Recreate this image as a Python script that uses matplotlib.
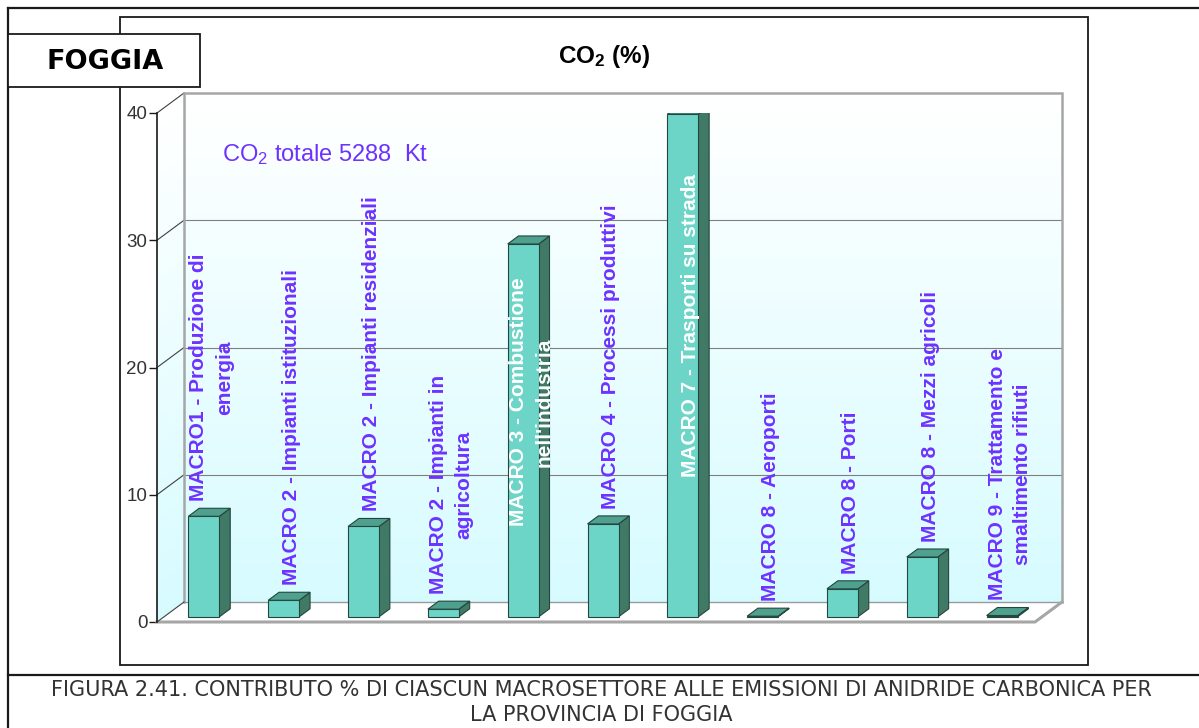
import numpy as np
import matplotlib
matplotlib.use("Agg")
import matplotlib.pyplot as plt
from matplotlib.patches import Polygon, Rectangle
from matplotlib.lines import Line2D

plt.rcParams['font.family'] = ['Liberation Sans', 'DejaVu Sans']
plt.rcParams['mathtext.default'] = 'regular'

# ----------
# DATA
# ----------
categories = [
    "MACRO1 - Produzione di\nenergia",
    "MACRO 2 - Impianti istituzionali",
    "MACRO 2 - Impianti residenziali",
    "MACRO 2 - Impianti in\nagricoltura",
    "MACRO 3 - Combustione\nnell'industria",
    "MACRO 4 - Processi produttivi",
    "MACRO 7 - Trasporti su strada",
    "MACRO 8 - Aeroporti",
    "MACRO 8 - Porti",
    "MACRO 8 - Mezzi agricoli",
    "MACRO 9 - Trattamento e\nsmaltimento rifiuti",
]
co2_share = [7.9, 1.3, 7.1, 0.6, 29.3, 7.3, 39.5, 0.05, 2.2, 4.7, 0.1]
co2_total = 5288
y_ticks = [0, 10, 20, 30, 40]

# ----------
# LAYOUT (pixels)
# ----------
W, H = 1199, 728
fig = plt.figure(figsize=(W / 100, H / 100), dpi=100)

def fx(px):
    return px / W

def fy(py):
    return 1 - py / H

# front plane of the 3D box
x0_px, x1_px = 157, 1035
y0_px, y1_px = 622, 113
ax = fig.add_axes([fx(x0_px), fy(y0_px), fx(x1_px - x0_px), (y0_px - y1_px) / H])
n = len(categories)
ax.set_xlim(0, n)
ax.set_ylim(0, 40)
ax.patch.set_visible(False)

# depth of the box in data units (27 px right, 20 px up)
DX = 27 / ((x1_px - x0_px) / n)
DY = 20 / ((y0_px - y1_px) / 40)

def proj(x, y, z):
    return (x + z * DX, y + z * DY)

# ----------
# FRAMES AND CAPTION
# ----------
frame_kw = dict(color='#1a1a1a', lw=1.6, transform=fig.transFigure)
fig.add_artist(Line2D([fx(8), fx(8)], [fy(8), fy(728)], **frame_kw))
fig.add_artist(Line2D([fx(8), fx(1199)], [fy(8), fy(8)], **frame_kw))
fig.add_artist(Line2D([fx(8), fx(1199)], [fy(675), fy(675)], **frame_kw))
fig.add_artist(Rectangle((fx(120), fy(665)), fx(1088 - 120), (665 - 17) / H,
                         fill=False, ec='#1a1a1a', lw=1.3,
                         transform=fig.transFigure, zorder=1))
fig.add_artist(Rectangle((fx(8), fy(87)), fx(200 - 8), (87 - 34) / H,
                         fc='white', ec='#1a1a1a', lw=1.3,
                         transform=fig.transFigure, zorder=3))
fig.text(fx(105), fy(62), "FOGGIA", ha='center', va='center', fontsize=19.5,
         fontweight='bold', family='DejaVu Sans', zorder=4)

fig.text(fx(601), fy(690), "FIGURA 2.41. CONTRIBUTO % DI CIASCUN MACROSETTORE ALLE "
         "EMISSIONI DI ANIDRIDE CARBONICA PER", ha='center', va='center',
         fontsize=15, family='DejaVu Sans', color='#333333')
fig.text(fx(601), fy(715), "LA PROVINCIA DI FOGGIA", ha='center', va='center',
         fontsize=15, family='DejaVu Sans', color='#333333')

fig.text(fx(604), fy(57), r"CO$_2$ (%)", ha='center', va='center',
         fontsize=17.5, fontweight='bold')
fig.text(fx(222), fy(155), rf"CO$_2$ totale {co2_total}  Kt", ha='left', va='center',
         fontsize=17, color='#6e32ff')

# ----------
# WALLS AND FLOOR
# ----------
top_col = np.array([1.0, 1.0, 1.0])
bot_col = np.array([0.84, 0.985, 1.0])
steps = 80
for k in range(steps):
    ya, yb = 40 * k / steps, 40 * (k + 1) / steps
    col = bot_col + (top_col - bot_col) * (k + 0.5) / steps
    back = [proj(0, ya, 1), proj(n, ya, 1), proj(n, yb, 1), proj(0, yb, 1)]
    side = [proj(0, ya, 0), proj(0, ya, 1), proj(0, yb, 1), proj(0, yb, 0)]
    for pts in (back, side):
        ax.add_patch(Polygon(pts, closed=True, fc=col, ec=col, lw=0.3,
                             clip_on=False, zorder=1))

floor = [proj(0, 0, 0), proj(n, 0, 0), proj(n, 0, 1), proj(0, 0, 1)]
ax.add_patch(Polygon(floor, closed=True, fc='white', ec='none', clip_on=False, zorder=1))

grid_col = '#7f7f7f'
for t in y_ticks[1:-1]:
    xs, ys = zip(proj(0, t, 1), proj(n, t, 1))
    ax.plot(xs, ys, color=grid_col, lw=0.8, clip_on=False, zorder=2)
for t in y_ticks[1:]:
    xs, ys = zip(proj(0, t, 0), proj(0, t, 1))
    ax.plot(xs, ys, color='#404040', lw=0.8, clip_on=False, zorder=2)

wall_edge = '#a6a6a6'
xs, ys = zip(proj(0, 0, 1), proj(0, 40, 1), proj(n, 40, 1), proj(n, 0, 1))
ax.plot(xs, ys, color=wall_edge, lw=1.8, clip_on=False, zorder=2,
        solid_joinstyle='miter')
xs, ys = zip(proj(0, 0, 1), proj(n, 0, 1))
ax.plot(xs, ys, color='#9a9a9a', lw=1.0, clip_on=False, zorder=2)
xs, ys = zip(proj(0, 0, 0), proj(n, 0, 0), proj(n, 0, 1))
ax.plot(xs, ys, color=wall_edge, lw=2.2, clip_on=False, zorder=2)
xs, ys = zip(proj(0, 0, 0), proj(0, 0, 1))
ax.plot(xs, ys, color='#404040', lw=0.8, clip_on=False, zorder=2)

# ----------
# AXIS
# ----------
for side_name in ('top', 'right', 'bottom'):
    ax.spines[side_name].set_visible(False)
ax.spines['left'].set_color('#1a1a1a')
ax.spines['left'].set_linewidth(1.2)
ax.spines['left'].set_zorder(5)
ax.set_xticks([])
ax.set_yticks(y_ticks)
ax.tick_params(axis='y', direction='out', length=6, width=1.0, color='#1a1a1a',
               labelsize=13.5, labelcolor='#333333', pad=1)

# ----------
# BARS
# ----------
face_col = '#6dd4c8'
side_col = '#407a66'
top_col_bar = '#4fa08e'
edge_col = '#24463c'
hw = 31 / ((x1_px - x0_px) / n) / 2
z0, z1 = 0.26, 0.66
label_col = '#6e32ff'

for i, (name, v) in enumerate(zip(categories, co2_share)):
    c = i + 0.5
    front = [proj(c - hw, 0, z0), proj(c + hw, 0, z0), proj(c + hw, v, z0), proj(c - hw, v, z0)]
    side = [proj(c + hw, 0, z0), proj(c + hw, 0, z1), proj(c + hw, v, z1), proj(c + hw, v, z0)]
    top = [proj(c - hw, v, z0), proj(c + hw, v, z0), proj(c + hw, v, z1), proj(c - hw, v, z1)]
    ax.add_patch(Polygon(side, closed=True, fc=side_col, ec=edge_col, lw=0.8, zorder=3))
    ax.add_patch(Polygon(front, closed=True, fc=face_col, ec=edge_col, lw=0.8, zorder=3))
    ax.add_patch(Polygon(top, closed=True, fc=top_col_bar, ec=edge_col, lw=0.8, zorder=3))

    lx, _ = proj(c, v, 0.55)
    if v > 20:
        ax.text(lx, 0.59 * v, name, rotation=90, ha='center', va='center',
                multialignment='center', fontsize=15, color='white',
                fontweight='bold', linespacing=1.45, zorder=4, clip_on=False)
    else:
        ax.text(lx, v + 1.6, name, rotation=90, ha='center', va='bottom',
                multialignment='center', fontsize=15, color=label_col,
                fontweight='bold', linespacing=1.45, zorder=4, clip_on=False)

fig.savefig("out.png", dpi=100)
